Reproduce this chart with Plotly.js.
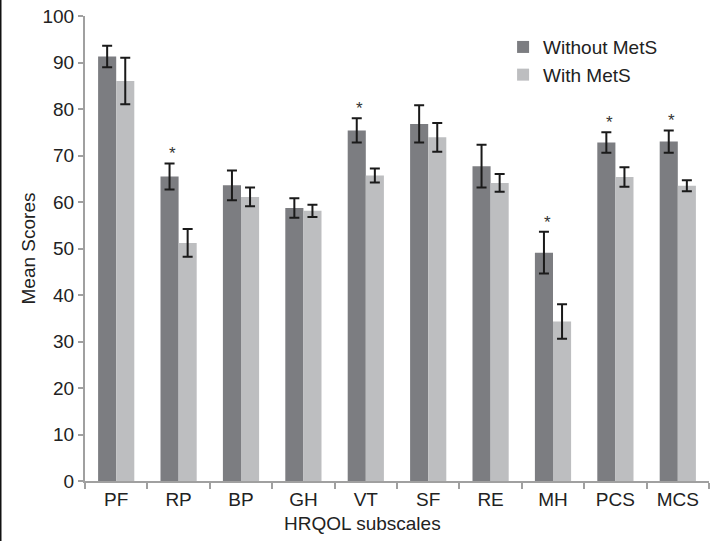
<!DOCTYPE html>
<html>
<head>
<meta charset="utf-8">
<script src="https://cdn.plot.ly/plotly-3.0.1.min.js"></script>
<style>
  html, body { margin: 0; padding: 0; background: white; }
  #chart { width: 725px; height: 541px; }
</style>
</head>
<body>
<div id="chart"></div>
<script>
// HRQOL subscale scores
const subscales = ["PF", "RP", "BP", "GH", "VT", "SF", "RE", "MH", "PCS", "MCS"];

const withoutMets = [91.3, 65.5, 63.6, 58.7, 75.4, 76.8, 67.7, 49.1, 72.8, 73.0];
const withoutErr = [2.3, 2.8, 3.2, 2.1, 2.6, 4.0, 4.6, 4.5, 2.2, 2.4];

const withMets = [86.0, 51.2, 61.1, 58.1, 65.7, 73.9, 64.1, 34.3, 65.4, 63.5];
const withErr = [5.0, 3.0, 2.0, 1.3, 1.5, 3.1, 1.9, 3.7, 2.1, 1.2];

// significant differences (asterisk over the "without" bar)
const significant = ["RP", "VT", "MH", "PCS", "MCS"];

const FONT = "Liberation Sans, Arial, sans-serif";
const FS = 19;
const axisGrey = "#a0a0a0";

const errStyle = (arr) => ({
  type: "data",
  array: arr,
  visible: true,
  color: "#1a1a1a",
  thickness: 2,
  width: 5
});

const traces = [
  {
    type: "bar",
    name: "Without MetS",
    x: subscales,
    y: withoutMets,
    error_y: errStyle(withoutErr),
    marker: { color: "#7c7d81" }
  },
  {
    type: "bar",
    name: "With MetS",
    x: subscales,
    y: withMets,
    error_y: errStyle(withErr),
    marker: { color: "#bdbec0" }
  }
];

// asterisks
const stars = significant.map((s) => {
  const i = subscales.indexOf(s);
  return {
    x: s,
    y: withoutMets[i] + withoutErr[i],
    xref: "x",
    yref: "y",
    text: "*",
    showarrow: false,
    xshift: -6,
    yshift: -2,
    yanchor: "bottom",
    font: { family: FONT, size: 17, color: "#333" }
  };
});

const layout = {
  width: 725,
  height: 541,
  margin: { l: 85, r: 16, t: 16, b: 60 },
  paper_bgcolor: "white",
  plot_bgcolor: "white",
  barmode: "group",
  bargap: 0.42,
  bargroupgap: 0,
  font: { family: FONT, size: FS, color: "#222" },
  showlegend: true,
  legend: {
    x: 0.67,
    y: 0.974,
    xanchor: "left",
    yanchor: "top",
    bgcolor: "rgba(0,0,0,0)",
    font: { family: FONT, size: FS, color: "#222" },
    itemwidth: 30,
    tracegroupgap: 0
  },
  xaxis: {
    showline: true,
    linecolor: axisGrey,
    linewidth: 2,
    ticks: "outside",
    tickson: "boundaries",
    ticklen: 6,
    tickwidth: 2,
    tickcolor: axisGrey,
    showgrid: false,
    zeroline: false,
    tickfont: { family: FONT, size: FS, color: "#222" }
  },
  yaxis: {
    range: [0, 100],
    dtick: 10,
    showline: true,
    linecolor: axisGrey,
    linewidth: 2,
    ticks: "outside",
    ticklen: 5,
    tickwidth: 2,
    tickcolor: axisGrey,
    showgrid: false,
    zeroline: false,
    tickfont: { family: FONT, size: FS, color: "#222" },
    title: { text: "Mean Scores", font: { family: FONT, size: FS, color: "#222" }, standoff: 2 }
  },
  annotations: stars.concat([
    {
      text: "HRQOL subscales",
      xref: "paper",
      yref: "paper",
      x: 0.445,
      y: 0,
      yshift: -30,
      xanchor: "center",
      yanchor: "top",
      showarrow: false,
      font: { family: FONT, size: FS, color: "#222" }
    }
  ]),
  shapes: [
    {
      type: "line",
      xref: "paper",
      yref: "paper",
      x0: -85 / 624,
      x1: -85 / 624,
      y0: -0.2,
      y1: 1.1,
      line: { color: "#111", width: 3 }
    }
  ]
};

Plotly.newPlot("chart", traces, layout, { displayModeBar: false, staticPlot: true });
</script>
</body>
</html>
